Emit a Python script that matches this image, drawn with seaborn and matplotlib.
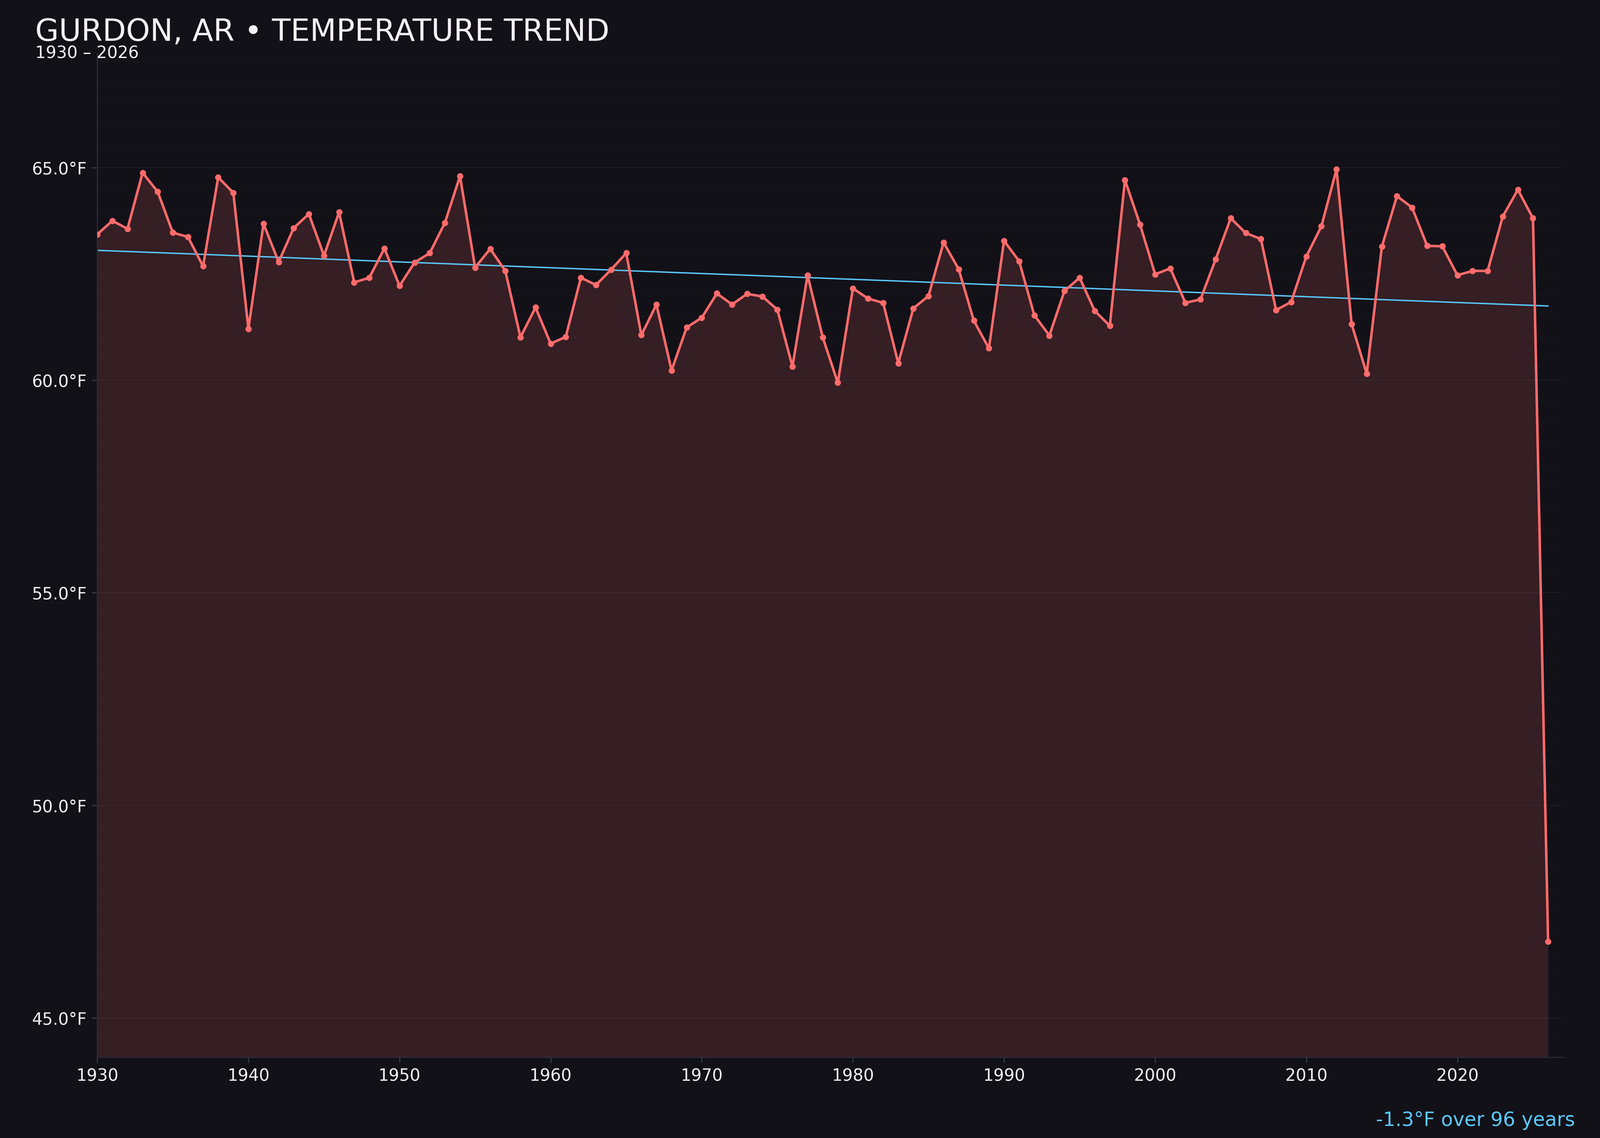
import numpy as np
import pandas as pd
import matplotlib
matplotlib.use("Agg")
import matplotlib.pyplot as plt
from matplotlib.ticker import MultipleLocator, FuncFormatter
import seaborn as sns

# Datos
years = list(range(1930, 2027))
temps = [
    63.43, 63.75, 63.56, 64.88, 64.43, 63.47, 63.37, 62.68, 64.77, 64.41,
    61.21, 63.68, 62.78, 63.58, 63.91, 62.93, 63.95, 62.30, 62.41, 63.10,
    62.22, 62.77, 62.99, 63.70, 64.80, 62.65, 63.09, 62.57, 61.01, 61.71,
    60.86, 61.02, 62.41, 62.24, 62.60, 62.99, 61.06, 61.78, 60.23, 61.24,
    61.47, 62.04, 61.78, 62.03, 61.97, 61.66, 60.32, 62.47, 61.01, 59.94,
    62.16, 61.92, 61.82, 60.40, 61.69, 61.98, 63.24, 62.61, 61.40, 60.75,
    63.28, 62.80, 61.53, 61.05, 62.10, 62.41, 61.63, 61.28, 64.71, 63.66,
    62.49, 62.63, 61.82, 61.90, 62.84, 63.81, 63.46, 63.32, 61.65, 61.84,
    62.91, 63.62, 64.96, 61.32, 60.15, 63.14, 64.33, 64.06, 63.16, 63.15,
    62.47, 62.57, 62.57, 63.85, 64.48, 63.81, 46.80,
]
x_ticks = [1930, 1940, 1950, 1960, 1970, 1980, 1990, 2000, 2010, 2020]
y_ticks = [45, 50, 55, 60, 65]

title = "GURDON, AR \u2022 TEMPERATURE TREND"
subtitle = "1930 \u2013 2026"

BG = "#121118"
RED = "#ff6b6b"
BLUE = "#5ac8fa"
TXT = "#f2f0f5"

df = pd.DataFrame({"year": years, "temp": temps})

# Tendencia lineal
slope, intercept = np.polyfit(df["year"], df["temp"], 1)
df["trend"] = slope * df["year"] + intercept
span = years[-1] - years[0]
change = slope * span

sns.set_theme(style="dark")
plt.rcParams["font.family"] = ["DejaVu Sans"]

fig = plt.figure(figsize=(16, 11.376), dpi=250, facecolor=BG)
ax = fig.add_axes([0.0608, 0.071, 0.9162, 0.882])
ax.set_facecolor(BG)

rng = df["temp"].max() - df["temp"].min()
y_lo = df["temp"].min() - 0.15 * rng
y_hi = df["temp"].max() + 0.15 * rng

ax.fill_between(df["year"], df["temp"], y_lo, color=RED, alpha=0.15, lw=0, zorder=1)
sns.lineplot(data=df, x="year", y="temp", ax=ax, color=RED, lw=1.8,
             marker="o", markersize=4.5, markeredgewidth=0, zorder=3)
sns.lineplot(data=df, x="year", y="trend", ax=ax, color=BLUE, lw=1.0, zorder=2)

ax.set_xlim(1930, 2027)
ax.set_ylim(y_lo, y_hi)
ax.set_xticks(x_ticks)
ax.set_yticks(y_ticks)
ax.yaxis.set_minor_locator(MultipleLocator(0.5))
ax.yaxis.set_major_formatter(FuncFormatter(lambda v, p: f"{v:.1f}\u00b0F"))
ax.set_xlabel("")
ax.set_ylabel("")

ax.grid(axis="y", which="major", color="white", alpha=0.05, lw=0.6, zorder=0)
ax.grid(axis="y", which="minor", color="white", alpha=0.018, lw=0.6, zorder=0)
ax.grid(axis="x", visible=False)

for s in ["top", "right"]:
    ax.spines[s].set_visible(False)
for s in ["left", "bottom"]:
    ax.spines[s].set_visible(True)
    ax.spines[s].set_color("#2c2c36")
    ax.spines[s].set_linewidth(0.8)

ax.tick_params(axis="both", which="major", colors="#3a3a44", labelcolor=TXT,
               labelsize=12, length=4, width=0.8, bottom=True, left=True)
ax.tick_params(axis="y", which="minor", length=0)

fig.text(0.022, 0.964, title, color=TXT, fontsize=22, ha="left", va="baseline")
fig.text(0.022, 0.949, subtitle, color=TXT, fontsize=12, ha="left", va="baseline")
fig.text(0.9845, 0.0105, f"{change:.1f}\u00b0F over {span} years", color=BLUE,
         fontsize=14, ha="right", va="baseline")

fig.savefig("out.png", dpi=250, facecolor=BG)
